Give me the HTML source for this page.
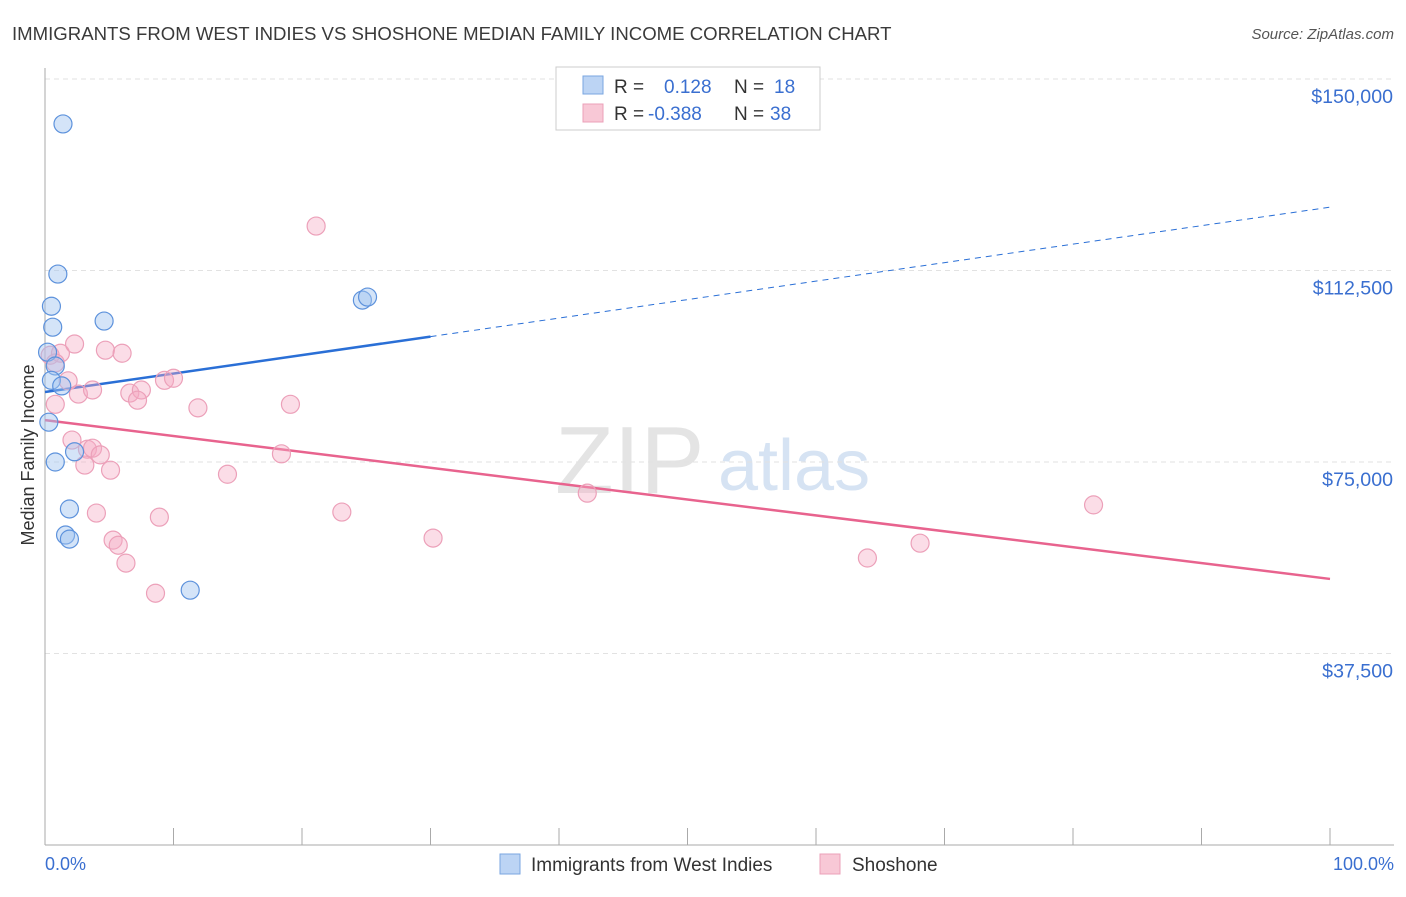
<!DOCTYPE html>
<html><head><meta charset="utf-8"><style>
body{margin:0;background:#fff;font-family:"Liberation Sans",sans-serif}
svg text{font-family:"Liberation Sans",sans-serif}
</style></head><body>
<svg id="chart" width="1406" height="892">
<text x="12" y="40" font-size="18.6" fill="#3a3a3a">IMMIGRANTS FROM WEST INDIES VS SHOSHONE MEDIAN FAMILY INCOME CORRELATION CHART</text>
<text x="1394" y="39" font-size="15" fill="#555" font-style="italic" text-anchor="end">Source: ZipAtlas.com</text>
<text x="555" y="493" font-size="96" fill="#e4e4e4" font-family="Liberation Serif">ZIP</text>
<text x="718" y="490" font-size="72" fill="#d6e3f3">atlas</text>
<g id="grid"></g><g id="axes"></g><g id="lines"></g><g id="pts"></g>
<text x="34" y="455" font-size="18" fill="#333" text-anchor="middle" transform="rotate(-90 34 455)">Median Family Income</text>
<text x="45" y="870" font-size="18" fill="#3a6fd0">0.0%</text>
<text x="1394" y="870" font-size="18" fill="#3a6fd0" text-anchor="end">100.0%</text>
<g>
<rect x="556" y="67" width="264" height="63" fill="#fff" stroke="#ccc"/>
<rect x="583" y="76" width="20" height="18" fill="#bcd4f4" stroke="#7aa6e0"/>
<rect x="583" y="104" width="20" height="18" fill="#f8c8d6" stroke="#eba0b8"/>
<text x="614" y="93" font-size="19" fill="#333">R = </text><text x="664" y="93" font-size="19" fill="#3a6fd0">0.128</text>
<text x="734" y="93" font-size="19" fill="#333">N = </text><text x="774" y="93" font-size="19" fill="#3a6fd0">18</text>
<text x="614" y="120" font-size="19" fill="#333">R = </text><text x="648" y="120" font-size="19" fill="#3a6fd0">-0.388</text>
<text x="734" y="120" font-size="19" fill="#333">N = </text><text x="770" y="120" font-size="19" fill="#3a6fd0">38</text>
</g>
<g>
<rect x="500" y="854" width="20" height="20" fill="#bcd4f4" stroke="#7aa6e0"/>
<text x="531" y="871" font-size="19" fill="#333">Immigrants from West Indies</text>
<rect x="820" y="854" width="20" height="20" fill="#f8c8d6" stroke="#eba0b8"/>
<text x="852" y="871" font-size="19" fill="#333">Shoshone</text>
</g>
</svg>
<script>
const yTicks=[37500,75000,112500,150000];
const yTickLabels=["$37,500","$75,000","$112,500","$150,000"];
const bluePct=[1.4,1.0,0.5,0.6,4.6,24.7,25.1,0.2,0.8,0.5,1.3,0.3,0.8,2.3,1.9,1.6,1.9,11.3];
const blueVal=[141200,111800,105500,101400,102600,106700,107300,96500,93800,91000,89900,82800,75000,77000,65800,60700,59900,49900];
const pinkPct=[0.4,1.2,2.3,4.7,6.0,0.8,1.8,0.8,2.6,3.7,6.6,7.5,7.2,9.3,10.0,11.9,19.1,2.1,3.3,3.7,4.3,3.1,5.1,14.2,18.4,21.1,4.0,23.1,8.9,5.3,5.7,6.3,8.6,30.2,42.2,64.0,68.1,81.6];
const pinkVal=[95900,96300,98100,96900,96300,94400,90900,86300,88300,89100,88500,89100,87100,91000,91400,85600,86300,79300,77500,77700,76400,74400,73400,72600,76600,121200,65000,65200,64200,59700,58700,55200,49300,60100,68900,56200,59100,66600];
const blueTrend=[88700,124900];
const pinkTrend=[83200,52100];
const blueSolidEnd=30;
const NS='http://www.w3.org/2000/svg';
const X=p=>45+p*12.85;
const Y=v=>845-v/37500*191.5;
function mk(t,a,parent){const e=document.createElementNS(NS,t);for(const k in a)e.setAttribute(k,a[k]);document.getElementById(parent).appendChild(e);return e;}
yTicks.forEach((t,i)=>{
 const l=mk('line',{x1:45,x2:1394,y1:Y(t),y2:Y(t),stroke:'#e2e2e2','stroke-dasharray':'5,4'},'grid');
 
 
 const tx=mk('text',{x:1393,y:Y(t)+24,'font-size':19.6,fill:'#3a6fd0','text-anchor':'end'},'grid');
 tx.textContent=yTickLabels[i];
 
 
});
const ya=mk('line',{x1:45,x2:45,y1:68,y2:845,stroke:'#aaa'},'axes');


const xa=mk('line',{x1:45,x2:1394,y1:845,y2:845,stroke:'#aaa'},'axes');


for(let i=1;i<=10;i++){const t=mk('line',{x1:X(i*10),x2:X(i*10),y1:828,y2:845,stroke:'#aaa'},'axes');
 
 }
const bv=p=>blueTrend[0]+(blueTrend[1]-blueTrend[0])*p/100;
const b1=mk('line',{x1:X(0),y1:Y(bv(0)),x2:X(blueSolidEnd),y2:Y(bv(blueSolidEnd)),stroke:'#2a6fd6','stroke-width':2.5},'lines');


const b2=mk('line',{x1:X(blueSolidEnd),y1:Y(bv(blueSolidEnd)),x2:X(100),y2:Y(bv(100)),stroke:'#2a6fd6','stroke-width':1,'stroke-dasharray':'6,5'},'lines');


const p1=mk('line',{x1:X(0),y1:Y(pinkTrend[0]),x2:X(100),y2:Y(pinkTrend[1]),stroke:'#e8638e','stroke-width':2.5},'lines');


pinkPct.forEach((p,i)=>{const c=mk('circle',{cx:X(p),cy:Y(pinkVal[i]),r:9,fill:'rgba(246,170,195,0.4)',stroke:'#eca0b9','stroke-width':1.2},'pts');
 
 });
bluePct.forEach((p,i)=>{const c=mk('circle',{cx:X(p),cy:Y(blueVal[i]),r:9,fill:'rgba(160,195,240,0.45)',stroke:'#5d92dc','stroke-width':1.2},'pts');
 
 });
</script>
</body></html>
